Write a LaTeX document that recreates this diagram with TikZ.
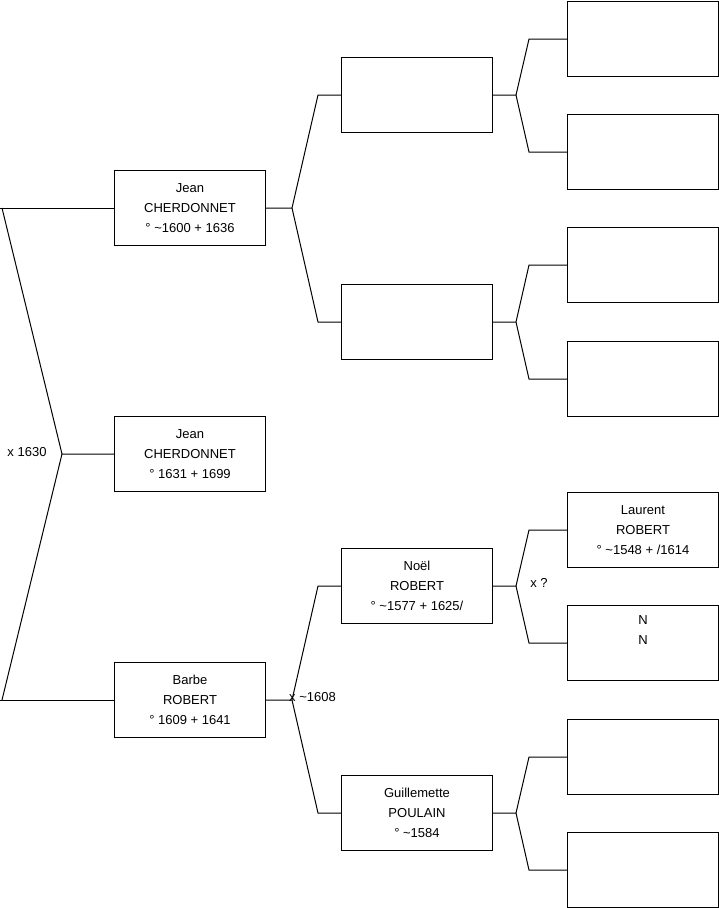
\documentclass[tikz,border=0pt]{standalone}
\usepackage{fontspec}
\setmainfont{Liberation Sans}
\begin{document}
\begin{tikzpicture}[x=1pt,y=-1pt,
  box/.style={draw, line width=1pt, minimum width=151pt, minimum height=75pt, inner sep=0pt, align=center, anchor=north west, font=\fontsize{13}{19.7}\selectfont},
  conn/.style={line width=1pt},
  lbl/.style={font=\fontsize{13}{15}\selectfont, inner sep=0pt}]
\useasboundingbox (0,0) rectangle (719,908);
% generation 1
\node[box] (jean1) at (114,170) {Jean\\CHERDONNET\\° \textasciitilde1600 + 1636};
\node[box] (child) at (114,416) {Jean\\CHERDONNET\\° 1631 + 1699};
\node[box] (barbe) at (114,662) {Barbe\\ROBERT\\° 1609 + 1641};
% generation 2
\node[box] (p1) at (341,57) {};
\node[box] (p2) at (341,284) {};
\node[box] (noel) at (341,548) {Noël\\ROBERT\\° \textasciitilde1577 + 1625/};
\node[box] (guil) at (341,775) {Guillemette\\POULAIN\\° \textasciitilde1584};
% generation 3
\node[box] (g1) at (567,1) {};
\node[box] (g2) at (567,114) {};
\node[box] (g3) at (567,227) {};
\node[box] (g4) at (567,341) {};
\node[box] (laurent) at (567,492) {Laurent\\ROBERT\\° \textasciitilde1548 + /1614};
\node[box] (nn) at (567,605) {N\\N\\\strut};
\node[box] (g7) at (567,719) {};
\node[box] (g8) at (567,832) {};
% root connectors
\coordinate (r) at ([xshift=-52pt]child.west);
\coordinate (rt) at ([xshift=-112pt]jean1.west);
\coordinate (rb) at ([xshift=-112pt]barbe.west);
\coordinate (lt) at ([xshift=-114pt]jean1.west);
\coordinate (lb) at ([xshift=-114pt]barbe.west);
\draw[conn] (child.west) -- (r) -- (rt);
\draw[conn] (r) -- (rb);
\draw[conn] (lt) -- (jean1.west);
\draw[conn] (lb) -- (barbe.west);
% gen1 -> gen2
\coordinate (j1) at ([xshift=26pt]jean1.east);
\draw[conn] (jean1.east) -- (j1) -- ([xshift=-23pt]p1.west) -- (p1.west);
\draw[conn] (j1) -- ([xshift=-23pt]p2.west) -- (p2.west);
\coordinate (j2) at ([xshift=26pt]barbe.east);
\draw[conn] (barbe.east) -- (j2) -- ([xshift=-23pt]noel.west) -- (noel.west);
\draw[conn] (j2) -- ([xshift=-23pt]guil.west) -- (guil.west);
% gen2 -> gen3
\foreach \p/\a/\b in {p1/g1/g2, p2/g3/g4, noel/laurent/nn, guil/g7/g8}{
  \coordinate (k\p) at ([xshift=23pt]\p.east);
  \draw[conn] (\p.east) -- (k\p) -- ([xshift=-38pt]\a.west) -- (\a.west);
  \draw[conn] (k\p) -- ([xshift=-38pt]\b.west) -- (\b.west);
}
% marriage labels
\node[lbl] (m1) at (27,452) {x 1630};
\node[lbl] (m2) at (312.5,697.5) {x \textasciitilde1608};
\node[lbl] (m3) at (539,583) {x ?};
\end{tikzpicture}
\end{document}
